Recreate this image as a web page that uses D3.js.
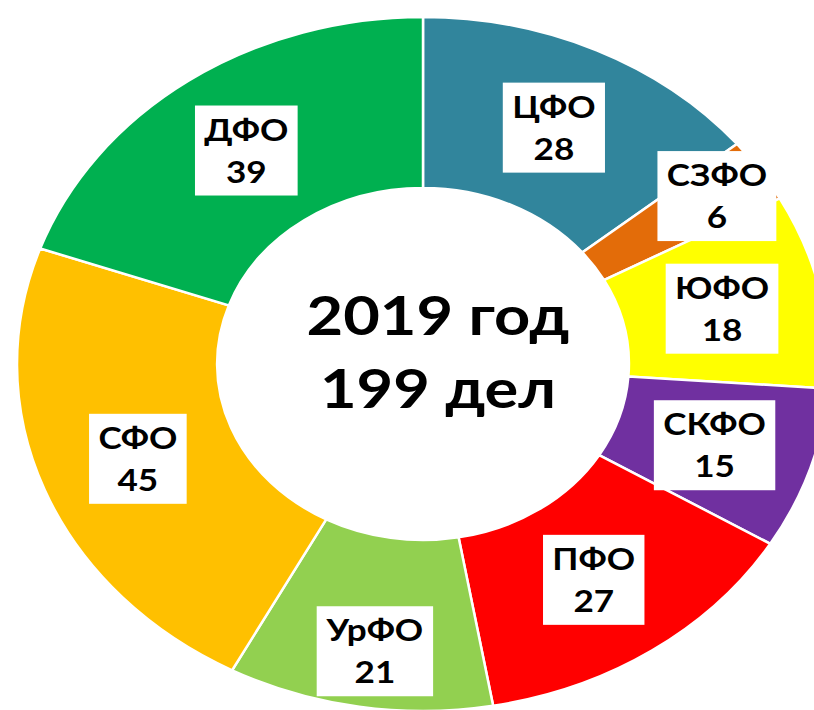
<!DOCTYPE html>
<html><head><meta charset="utf-8">
<script src="https://cdn.jsdelivr.net/npm/d3@7"></script>
<style>
html,body{margin:0;padding:0;background:#fff;overflow:hidden}
svg{display:block}
text{font-family:Lato,"Open Sans",sans-serif;font-weight:700;fill:#000}
</style></head>
<body>
<svg id="chart" width="814" height="710"></svg>
<script>
const categories = ["ЦФО","СЗФО","ЮФО","СКФО","ПФО","УрФО","СФО","ДФО"];
const values = [28, 6, 18, 15, 27, 21, 45, 39];
const colors = ["#31859C","#E36C09","#FFFF00","#7030A0","#FF0000","#92D050","#FFC000","#00B050"];
const centerLines = ["2019 год","199 дел"];
// manual label nudges (screen px) like the original
const labelNudge = [[0,0],[40,-22],[0,0],[0,2],[-2,0],[0,29],[0,0],[0,0]];

const W = 814, H = 710;
const cx = 423, cy = 364, R = 347, r = 176, sx = 1.17;

const svg = d3.select("#chart");
const data = categories.map((c,i)=>({name:c, value:values[i], color:colors[i], i}));
const pie = d3.pie().value(d=>d.value).sort(null);
const arcs = pie(data);
const arc = d3.arc().innerRadius(r).outerRadius(R);

const g = svg.append("g").attr("transform",`translate(${cx},${cy}) scale(${sx},1)`);
g.selectAll("path").data(arcs).join("path")
  .attr("d",arc)
  .attr("fill",d=>d.data.color)
  .attr("stroke","#fff")
  .attr("stroke-width",2.5)
  .attr("vector-effect","non-scaling-stroke");

const lab = svg.append("g");
arcs.forEach((a,i)=>{
  const [x,y] = arc.centroid(a);
  const px = cx + x*sx + labelNudge[i][0];
  const py = cy + y + labelNudge[i][1];
  const lg = lab.append("g").attr("transform",`translate(${px},${py}) scale(${sx},1)`);
  const rect = lg.append("rect").attr("fill","#fff");
  const t1 = lg.append("text").attr("text-anchor","middle").attr("font-size",30).attr("y",-10).text(a.data.name);
  const t2 = lg.append("text").attr("text-anchor","middle").attr("font-size",30).attr("y",32).text(a.data.value);
  const w = Math.max(t1.node().getBBox().width, t2.node().getBBox().width) + 16;
  rect.attr("x",-w/2).attr("y",-45).attr("width",w).attr("height",90);
});

const ct = svg.append("g").attr("transform",`translate(${cx+15},0) scale(${sx},1)`);
ct.selectAll("text").data(centerLines).join("text")
  .attr("text-anchor","middle")
  .attr("font-size",54)
  .attr("y",(d,i)=>335+i*73)
  .text(d=>d);
</script>
</body></html>
